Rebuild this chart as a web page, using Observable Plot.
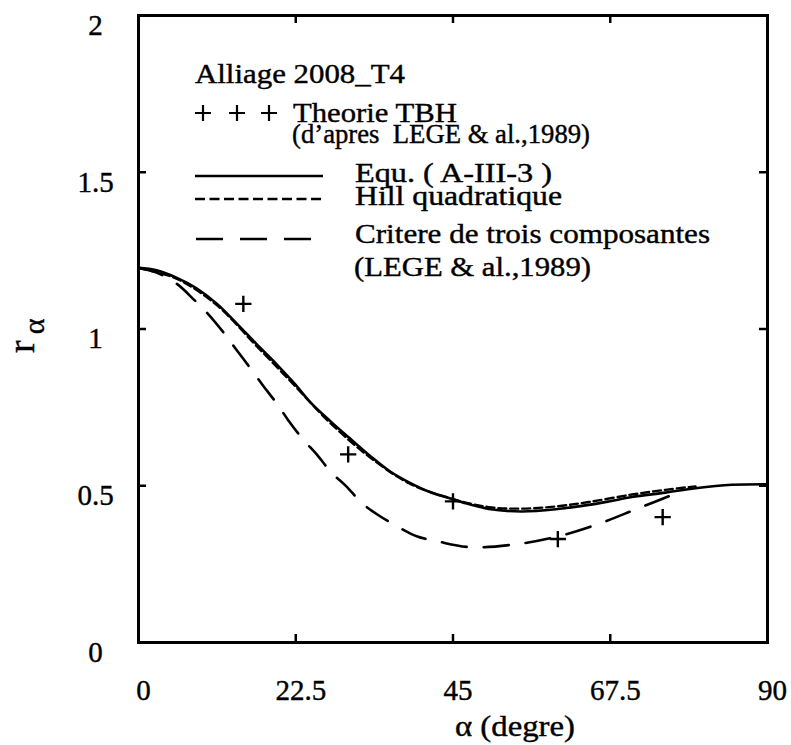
<!DOCTYPE html>
<html>
<head>
<meta charset="utf-8">
<script src="https://cdn.jsdelivr.net/npm/d3@7"></script>
<script src="https://cdn.jsdelivr.net/npm/@observablehq/plot@0.6"></script>
<style>
  html, body { margin: 0; padding: 0; background: white; }
  #wrap { position: relative; width: 791px; height: 745px; }
  #overlay { position: absolute; left: 0; top: 0; pointer-events: none; }
  #wrap svg text { stroke: black; stroke-width: 0.4px; }
</style>
</head>
<body>
<div id="wrap"></div>
<script>
// ---- data ----
const alphaTicks = [0, 22.5, 45, 67.5, 90];
const rTicks = [0, 0.5, 1, 1.5, 2];

const equAlpha = [0, 2.6, 5.5, 8.3, 11.2, 14.0, 16.8, 19.7, 22.4, 24.6, 27.4, 30.2, 33.1, 35.9, 38.7, 41.6, 44.4, 46.8, 50.1, 54.8, 59.7, 64.4, 67.3, 70.6, 75.4, 79.7, 84.9, 90];
const equR     = [1.195, 1.187, 1.163, 1.130, 1.081, 1.019, 0.954, 0.889, 0.824, 0.766, 0.707, 0.652, 0.596, 0.547, 0.511, 0.481, 0.461, 0.444, 0.426, 0.418, 0.425, 0.439, 0.450, 0.464, 0.478, 0.492, 0.503, 0.505];

const hillAlpha = [0, 5.5, 11.2, 16.8, 22.4, 27.4, 33.1, 38.7, 44.4, 50.1, 54.8, 59.7, 64.4, 70.6, 75.4, 79.7];
const hillR     = [1.195, 1.160, 1.076, 0.948, 0.818, 0.701, 0.591, 0.508, 0.461, 0.432, 0.427, 0.434, 0.448, 0.472, 0.487, 0.498];

const critAlpha = [0, 2.6, 5.5, 8.0, 10.0, 12.2, 13.9, 16.0, 17.7, 19.8, 21.4, 23.5, 25.5, 27.6, 29.7, 32.0, 34.4, 37.2, 39.8, 42.9, 47.5, 53.9, 59.6, 65.8, 71.5, 77.2];
const critR     = [1.195, 1.180, 1.144, 1.092, 1.047, 0.988, 0.937, 0.875, 0.823, 0.762, 0.710, 0.649, 0.600, 0.542, 0.499, 0.444, 0.405, 0.368, 0.339, 0.322, 0.304, 0.313, 0.336, 0.378, 0.428, 0.478];

const tbhAlpha = [15, 30, 45, 60, 75];
const tbhR     = [1.08, 0.60, 0.45, 0.33, 0.40];

const legendTitle = "Alliage 2008_T4";
const legendTbh = ["Theorie TBH", "(d\u2019apres  LEGE & al.,1989)"];
const legendEqu = "Equ. ( A-III-3 )";
const legendHill = "Hill quadratique";
const legendCrit = ["Critere de trois composantes", "(LEGE & al.,1989)"];
const xLabel = "\u03b1 (degre)";

// ---- tables ----
const toRows = (a, r) => a.map((d, i) => ({alpha: d, r: r[i]}));
const equ = toRows(equAlpha, equR);
const hill = toRows(hillAlpha, hillR);
const crit = toRows(critAlpha, critR);
const tbh = toRows(tbhAlpha, tbhR);

const W = 791, H = 745;
const mL = 138, mR = 24, mT = 15, mB = 103;
const fw = W - mL - mR, fh = H - mT - mB;
const innerA = alphaTicks.slice(1, -1);
const innerR = rTicks.slice(1, -1);
const tk = 8;

const chart = Plot.plot({
  width: W, height: H,
  marginLeft: mL, marginRight: mR, marginTop: mT, marginBottom: mB,
  style: {fontFamily: "'Liberation Serif', serif", color: "black", background: "white"},
  x: {domain: [0, 90]},
  y: {domain: [0, 2]},
  marks: [
    Plot.axisX(alphaTicks, {tickSize: 0, tickPadding: 37, fontSize: 29, dx: 5, label: null, tickFormat: d => String(d)}),
    Plot.axisY(rTicks, {tickSize: 0, tickPadding: 43, textAnchor: "middle", fontSize: 29, dy: 10, label: null, tickFormat: d => String(d)}),
    Plot.tickY(innerR, {y: d => d, insetRight: fw - tk, strokeWidth: 2.5}),
    Plot.tickY(innerR, {y: d => d, insetLeft: fw - tk, strokeWidth: 2.5}),
    Plot.tickX(innerA, {x: d => d, insetTop: fh - tk, strokeWidth: 2.5}),
    Plot.tickX(innerA, {x: d => d, insetBottom: fh - tk, strokeWidth: 2.5}),
    Plot.line(crit, {x: "alpha", y: "r", stroke: "black", strokeWidth: 2.6, strokeDasharray: "25,17", curve: "catmull-rom"}),
    Plot.line(hill, {x: "alpha", y: "r", stroke: "black", strokeWidth: 2.4, strokeDasharray: "8,4", curve: "catmull-rom"}),
    Plot.line(equ, {x: "alpha", y: "r", stroke: "black", strokeWidth: 2.6, curve: "catmull-rom"}),
    Plot.dot(tbh, {x: "alpha", y: "r", symbol: "plus", r: 5.3, stroke: "black", strokeWidth: 2.4}),
    Plot.frame({strokeWidth: 3})
  ]
});
document.getElementById("wrap").appendChild(chart);

// ---- overlay: legend and axis labels ----
const svg = d3.select("#wrap").append("svg")
  .attr("id", "overlay").attr("width", W).attr("height", H)
  .style("font-family", "'Liberation Serif', serif");

function txt(s, x, y, size, len) {
  const t = svg.append("text").attr("x", x).attr("y", y)
    .attr("font-size", size).attr("fill", "black")
    .attr("xml:space", "preserve").style("white-space", "pre").text(s);
  if (len) t.attr("textLength", len).attr("lengthAdjust", "spacingAndGlyphs");
  return t;
}
const fs = 27;
txt(legendTitle, 195, 83, fs, 210);
[203, 237, 269].forEach(cx => {
  svg.append("path").attr("d", `M${cx - 8},113H${cx + 8}M${cx},105V121`)
    .attr("stroke", "black").attr("stroke-width", 2.2).attr("fill", "none");
});
txt(legendTbh[0], 293, 122, fs, 164);
txt(legendTbh[1], 292, 143, fs, 298);
svg.append("line").attr("x1", 195).attr("x2", 323).attr("y1", 176).attr("y2", 176)
  .attr("stroke", "black").attr("stroke-width", 2.6);
txt(legendEqu, 355, 182, fs, 197);
svg.append("line").attr("x1", 195).attr("x2", 323).attr("y1", 199).attr("y2", 199)
  .attr("stroke", "black").attr("stroke-width", 2.4).attr("stroke-dasharray", "10,4.5");
txt(legendHill, 355, 205, fs, 207);
svg.append("line").attr("x1", 196).attr("x2", 312).attr("y1", 239).attr("y2", 239)
  .attr("stroke", "black").attr("stroke-width", 2.6).attr("stroke-dasharray", "27,17");
txt(legendCrit[0], 355, 243, fs, 355);
txt(legendCrit[1], 354, 276, fs, 237);

// x label
txt(xLabel, 455, 736, 30, 120);
// y label: r with subscript alpha, rotated
const yl = svg.append("text").attr("transform", "translate(34,353) rotate(-90)").attr("fill", "black");
yl.append("tspan").attr("font-size", 38).text("r");
yl.append("tspan").attr("font-size", 30).attr("dx", 6).attr("dy", 10).text("\u03b1");
</script>
</body>
</html>
